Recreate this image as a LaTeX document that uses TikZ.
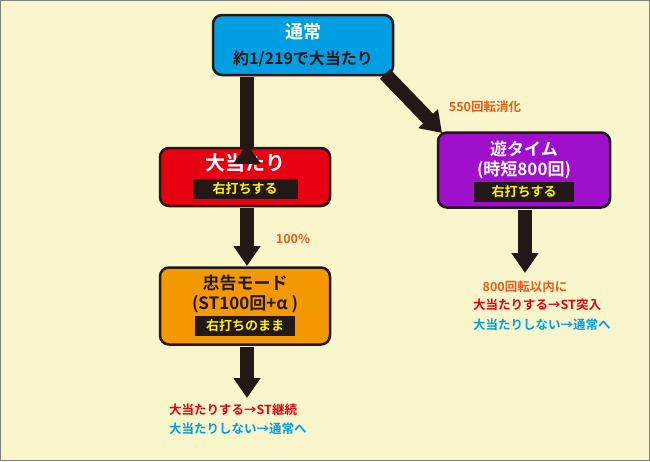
\documentclass[tikz,border=0pt]{standalone}
\usepackage{fontspec}
\setmainfont{Noto Sans CJK JP}[BoldFont={Noto Sans CJK JP Bold}]
\usetikzlibrary{arrows.meta}
\definecolor{bg}{HTML}{FAF6CC}
\definecolor{cblue}{HTML}{009FE3}
\definecolor{cred}{HTML}{E60012}
\definecolor{cpurple}{HTML}{A010CC}
\definecolor{corange}{HTML}{F39800}
\definecolor{ctxt}{HTML}{EA5B1C}
\definecolor{cdark}{HTML}{231815}
\definecolor{cyel}{HTML}{FFF100}
\begin{document}
\begin{tikzpicture}[x=1pt,y=-1pt,font=\bfseries,
 box/.style={draw=cdark,line width=2.5pt,rounded corners=9pt,minimum width=#1},
 bar/.style={fill=cdark,text=cyel,font=\bfseries\fontsize{13}{13}\selectfont,inner sep=2pt,minimum height=20pt,minimum width=100pt},
 arr/.style={draw=cdark,line width=14pt,-{Triangle[width=26pt,length=20pt]}},
 lbl/.style={font=\bfseries\fontsize{12.5}{14}\selectfont,inner sep=1pt}]
\fill[bg] (0,0) rectangle (650,461);
\draw[gray,line width=1pt] (0.5,0.5) rectangle (649.5,460.5);
% nodes
\node[box=0pt,fill=cblue,minimum width=180pt,minimum height=60pt] (n) at (303,45) {};
\node[text=white,font=\bfseries\fontsize{18}{18}\selectfont] (nt) at (303,32) {通常};
\node[text=cdark,font=\bfseries\fontsize{16}{16}\selectfont] (ns) at (303,59) {約1/219で大当たり};
\node[box=0pt,fill=cred,minimum width=170pt,minimum height=58pt] (a) at (245,177) {};
\node[text=white,font=\bfseries\fontsize{20}{20}\selectfont] (at) at (245,163) {大当たり};
\node[bar,minimum width=105pt] (ab) at (245,189) {右打ちする};
\node[box=0pt,fill=cpurple,minimum width=172pt,minimum height=75pt] (y) at (524,170) {};
\node[text=white,font=\bfseries\fontsize{17}{17}\selectfont] (yt) at (524,149) {遊タイム};
\node[text=white,font=\bfseries\fontsize{17}{17}\selectfont] (ys) at (524,170) {(時短800回)};
\node[bar] (yb) at (524,192) {右打ちする};
\node[box=0pt,fill=corange,minimum width=170pt,minimum height=77pt] (c) at (245,306) {};
\node[text=cdark,font=\bfseries\fontsize{17}{17}\selectfont] (ct) at (245,283) {忠告モード};
\node[text=cdark,font=\bfseries\fontsize{17}{17}\selectfont] (cs) at (245,304) {(ST100回+α )};
\node[bar] (cb) at (245,326) {右打ちのまま};
% labels
\node[lbl,text=ctxt] (l1) at (485,107) {550回転消化};
\node[lbl,text=ctxt] (l2) at (293,239) {100\%};
\node[lbl,text=ctxt] (r0) at (525,287) {800回転以内に};
\node[lbl,text=cred,anchor=west] (r1) at (472,305) {大当たりする→ST突入};
\node[lbl,text=cblue,anchor=west] (r2) at (472,325) {大当たりしない→通常へ};
\node[lbl,text=cred,anchor=west] (b1) at (168,410) {大当たりする→ST継続};
\node[lbl,text=cblue,anchor=west] (b2) at (168,429) {大当たりしない→通常へ};
% arrows
\draw[arr] (n.south -| a) ++(2,1) coordinate (s1) -- (s1 |- a.north) ++(0,-3);
\path (247,76) coordinate (p1) (247,146) coordinate (q1)
      (385,74) coordinate (p2) (442,133) coordinate (q2)
      (247,208) coordinate (p3) (247,266) coordinate (q3)
      (525,210) coordinate (p4) (525,273) coordinate (q4)
      (247,347) coordinate (p5) (247,398) coordinate (q5);
\draw[arr] (p2) -- (q2);
\draw[arr] (p3) -- (q3);
\draw[arr] (p4) -- (q4);
\draw[arr] (p5) -- (q5);
\end{tikzpicture}
\end{document}
